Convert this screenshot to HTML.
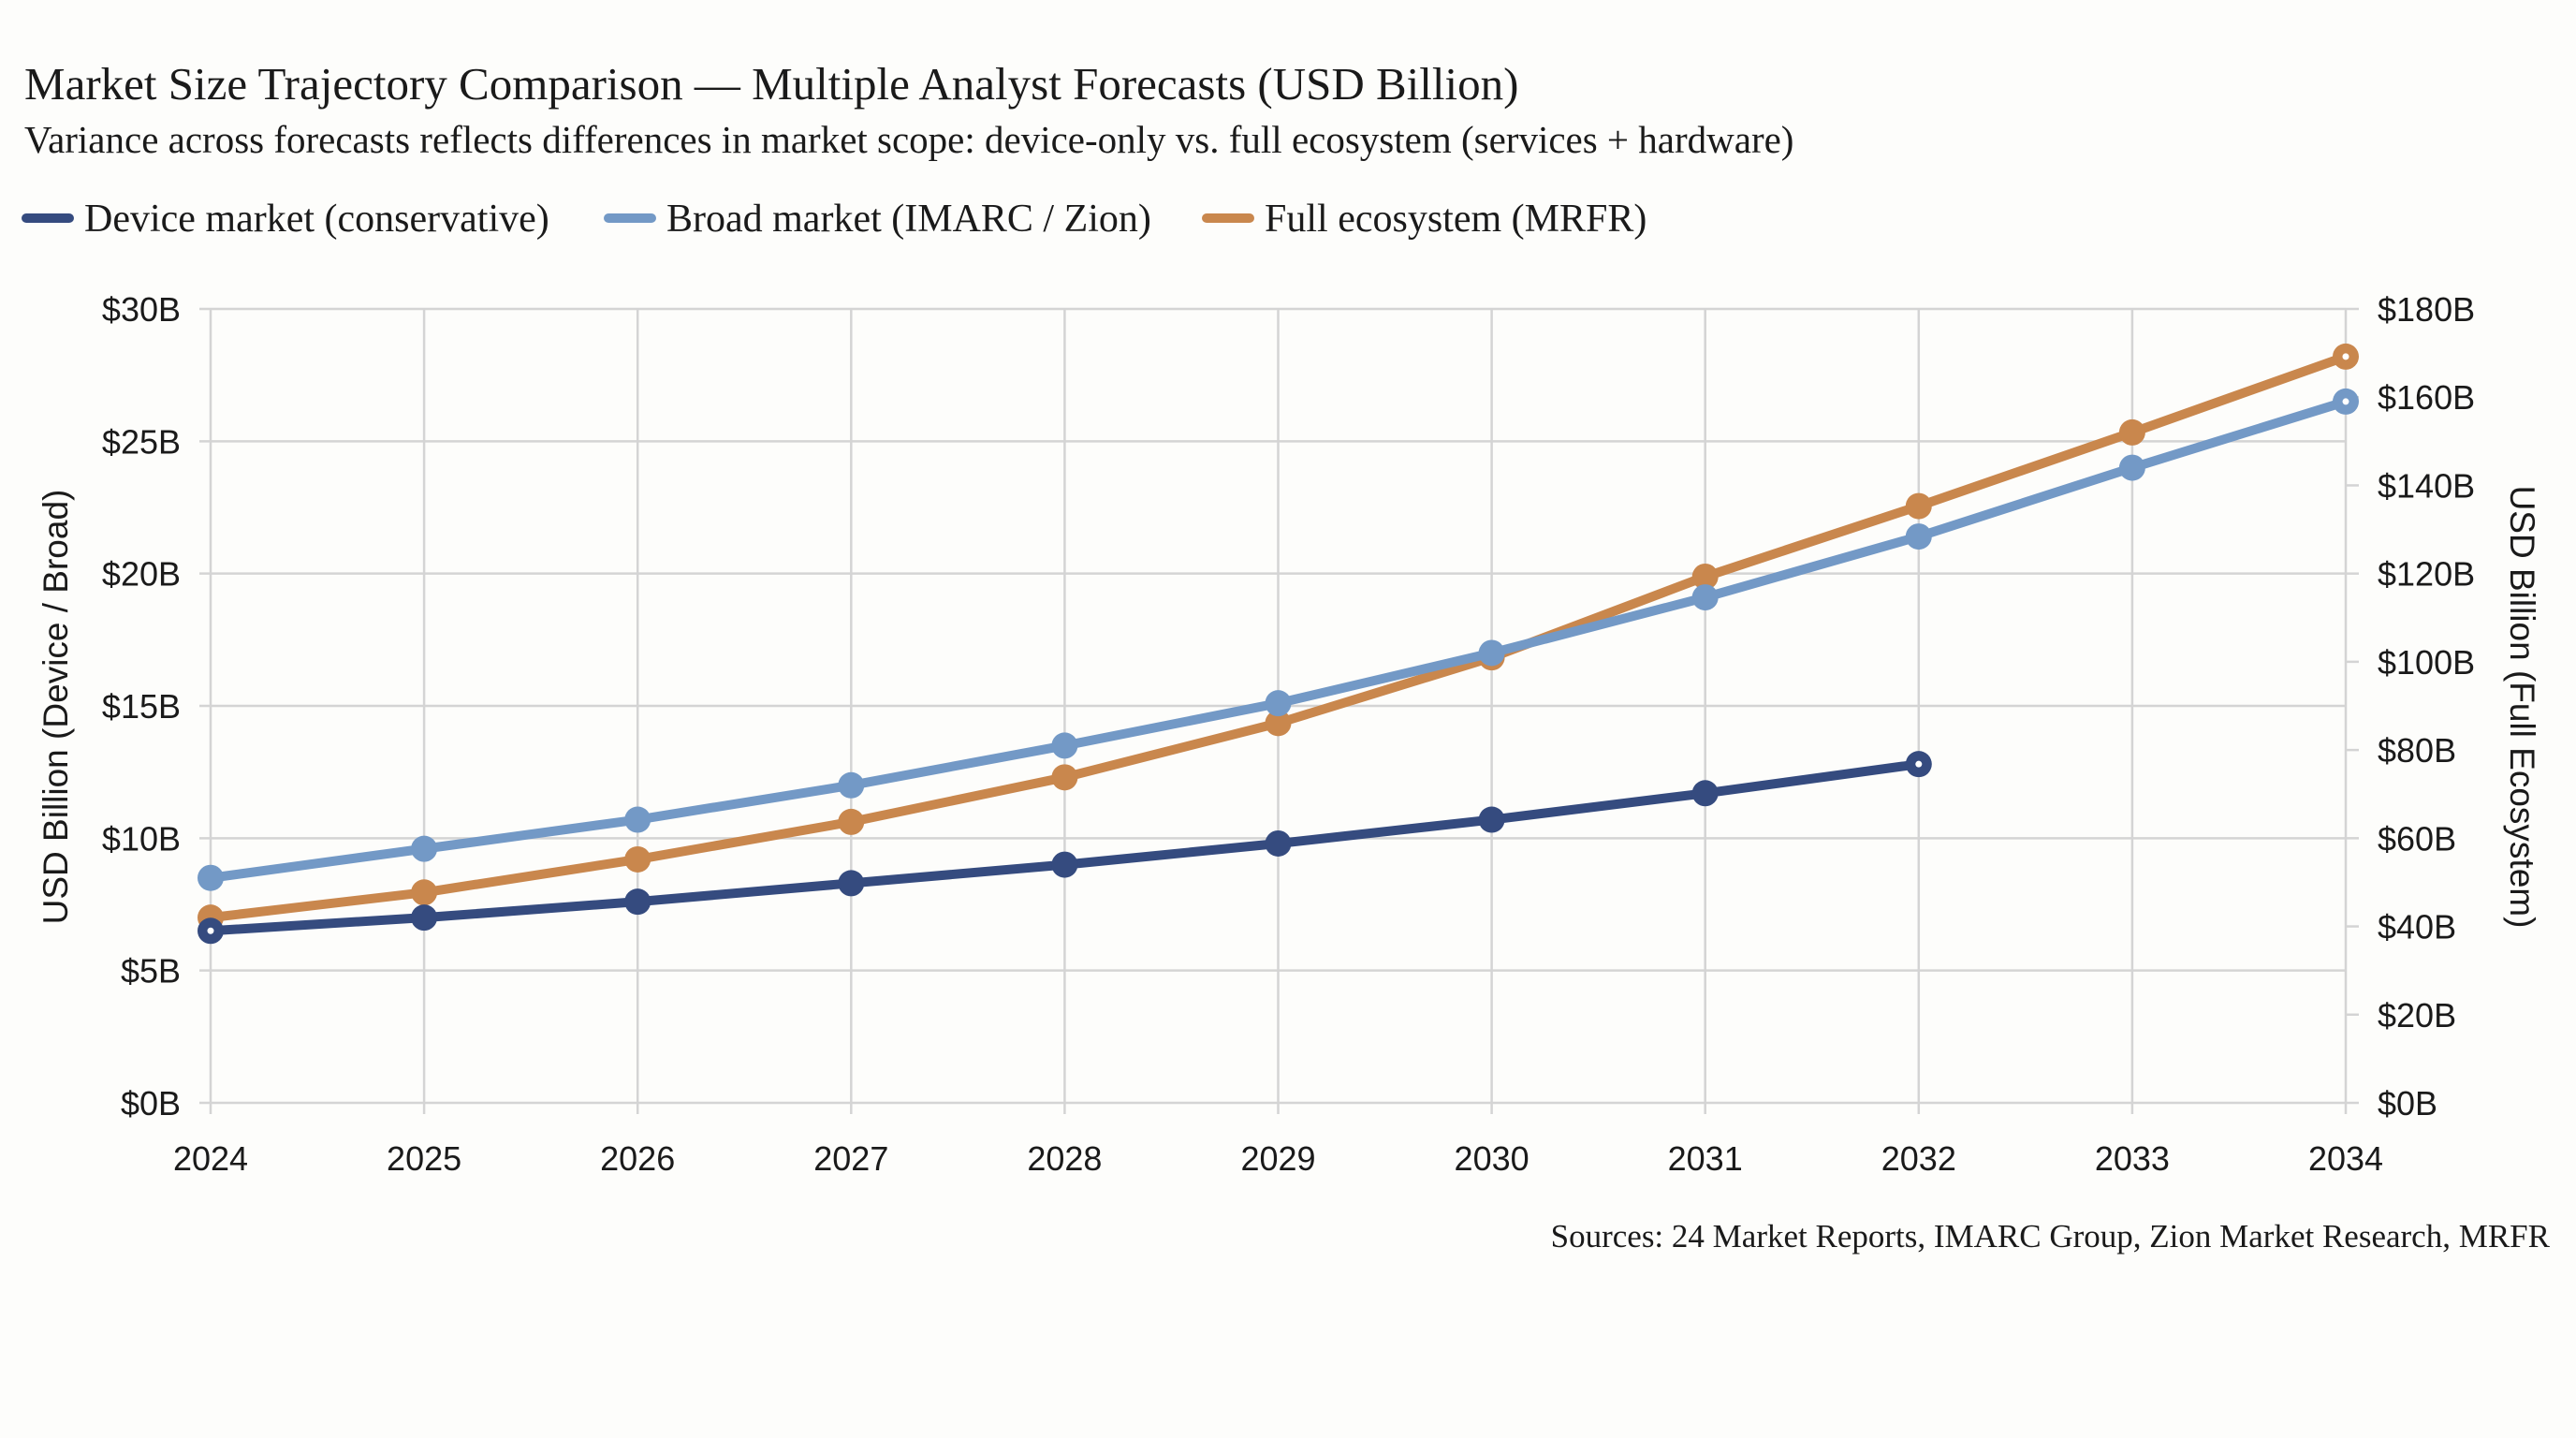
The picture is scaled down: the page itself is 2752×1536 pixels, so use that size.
<!DOCTYPE html>
<html><head><meta charset="utf-8">
<style>
html,body{margin:0;padding:0;background:#fdfdfb;}
svg{display:block;}
.serif{font-family:"Liberation Serif",serif;fill:#1a1a1a;}
.sans{font-family:"Liberation Sans",sans-serif;fill:#1a1a1a;}
</style></head>
<body>
<svg id="chart" width="2752" height="1536" viewBox="0 0 2752 1536" xmlns="http://www.w3.org/2000/svg">
<rect width="2752" height="1536" fill="#fdfdfb"/>
<text class="serif" x="26" y="106" font-size="49">Market Size Trajectory Comparison — Multiple Analyst Forecasts (USD Billion)</text>
<text class="serif" x="26" y="163" font-size="41">Variance across forecasts reflects differences in market scope: device-only vs. full ecosystem (services + hardware)</text>
<g>
 <g>
  <line x1="28" y1="233" x2="74" y2="233" stroke="#354b7f" stroke-width="10" stroke-linecap="round"/>
  <text class="serif" x="90" y="247" font-size="42">Device market (conservative)</text>
 </g>
 <g>
  <line x1="650" y1="233" x2="696" y2="233" stroke="#7399c6" stroke-width="10" stroke-linecap="round"/>
  <text class="serif" x="712" y="247" font-size="42">Broad market (IMARC / Zion)</text>
 </g>
 <g>
  <line x1="1289" y1="233" x2="1335" y2="233" stroke="#c9874d" stroke-width="10" stroke-linecap="round"/>
  <text class="serif" x="1351" y="247" font-size="42">Full ecosystem (MRFR)</text>
 </g>
</g>
<g id="grid"></g>
<g id="axes"></g>
<g id="series"></g>
<text class="sans" x="0" y="0" font-size="37" text-anchor="middle" transform="translate(72,755) rotate(-90)">USD Billion (Device / Broad)</text>
<text class="sans" x="0" y="0" font-size="37" text-anchor="middle" transform="translate(2682,755) rotate(90)">USD Billion (Full Ecosystem)</text>
<text class="serif" x="2724" y="1332" font-size="35" text-anchor="end">Sources: 24 Market Reports, IMARC Group, Zion Market Research, MRFR</text>
</svg>
<script>
const years = [2024,2025,2026,2027,2028,2029,2030,2031,2032,2033,2034];
const deviceValues = [6.5,7.0,7.6,8.3,9.0,9.8,10.7,11.7,12.8];
const broadValues = [8.5,9.6,10.7,12.0,13.5,15.1,17.0,19.1,21.4,24.0,26.5];
const fullValues = [42,47.7,55.2,63.7,73.8,86.1,101,119.3,135.3,152,169.2];
const leftTicks = [0,5,10,15,20,25,30];
const rightTicks = [0,20,40,60,80,100,120,140,160,180];

const NS = "http://www.w3.org/2000/svg";
const L = 225, R = 2506, T = 330, B = 1178;
const leftMax = 30, rightMax = 180;
function xs(i){ return L + (R - L) * i / (years.length - 1); }
function yl(v){ return B - (B - T) * v / leftMax; }
function yr(v){ return B - (B - T) * v / rightMax; }
function mk(tag, attrs, parent){
  const e = document.createElementNS(NS, tag);
  for (const k in attrs) e.setAttribute(k, attrs[k]);
  parent.appendChild(e);
  return e;
}
const grid = document.getElementById('grid');
const axes = document.getElementById('axes');
const series = document.getElementById('series');

leftTicks.forEach(v => {
  const y = yl(v);
  const g = mk('line', {x1: L - 12, x2: R, y1: y, y2: y, stroke: '#d4d4d4', 'stroke-width': 2.5}, grid);
  
  
  const t = mk('text', {x: L - 32, y: y + 13, 'font-size': 36, 'text-anchor': 'end', class: 'sans'}, axes);
  t.textContent = '$' + v + 'B';
  
  
});
rightTicks.forEach(v => {
  const y = yr(v);
  const tk = mk('line', {x1: R, x2: R + 14, y1: y, y2: y, stroke: '#d4d4d4', 'stroke-width': 2.5}, axes);
  
  
  const t = mk('text', {x: R + 34, y: y + 13, 'font-size': 36, class: 'sans'}, axes);
  t.textContent = '$' + v + 'B';
  
  
});
years.forEach((yv, i) => {
  const x = xs(i);
  const g = mk('line', {x1: x, x2: x, y1: T, y2: B + 12, stroke: '#d4d4d4', 'stroke-width': 2.5}, grid);
  
  
  const t = mk('text', {x: x, y: B + 72, 'font-size': 36, 'text-anchor': 'middle', class: 'sans'}, axes);
  t.textContent = yv;
  
  
});

function drawSeries(vals, yf, color, name){
  const g = mk('g', {}, series);
  
  
  const pts = vals.map((v, i) => xs(i) + ',' + yf(v)).join(' ');
  const pl = mk('polyline', {points: pts, fill: 'none', stroke: color, 'stroke-width': 10, 'stroke-linejoin': 'round', 'stroke-linecap': 'round'}, g);
  
  
  vals.forEach((v, i) => {
    const c = mk('circle', {cx: xs(i), cy: yf(v), r: 14, fill: color}, g);
    
    
  });
  const li = vals.length - 1;
  const d = mk('circle', {cx: xs(li), cy: yf(vals[li]), r: 3.5, fill: '#ffffff'}, g);
  
  
}
drawSeries(fullValues, yr, '#c9874d', 'series-full-ecosystem');
drawSeries(broadValues, yl, '#7399c6', 'series-broad-market');
drawSeries(deviceValues, yl, '#354b7f', 'series-device-market');
const fd = mk('circle', {cx: xs(0), cy: yl(deviceValues[0]), r: 3.5, fill: '#ffffff'}, series);


</script>
</body></html>
